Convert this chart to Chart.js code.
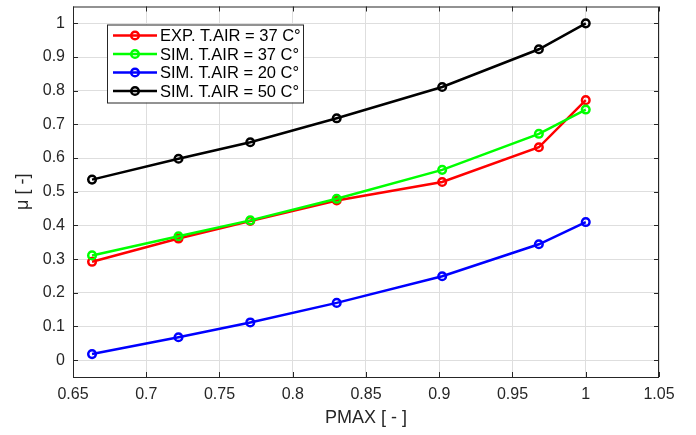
<!DOCTYPE html>
<html lang="en">

<head>
    <meta charset="UTF-8">
    <title>PMAX vs mu</title>
    <style>
        html, body { margin: 0; padding: 0; background: #fff; }
    </style>
</head>

<body>
    <div style="width:696px;height:435px">
        <canvas id="myChart" width="696" height="435"></canvas>
    </div>

    <script src="https://cdn.jsdelivr.net/npm/chart.js/dist/chart.umd.min.js"></script>
    <script>
        // values
        const pmax = [0.663, 0.722, 0.771, 0.830, 0.902, 0.968, 1.0];
        const expT37 = [0.292, 0.361, 0.413, 0.474, 0.529, 0.632, 0.772];
        const simT37 = [0.311, 0.368, 0.415, 0.479, 0.565, 0.672, 0.744];
        const simT20 = [0.018, 0.068, 0.112, 0.170, 0.249, 0.344, 0.410];
        const simT50 = [0.536, 0.598, 0.647, 0.718, 0.811, 0.923, 1.0];

        const seriesLabels = ['EXP. T.AIR = 37 C°', 'SIM. T.AIR = 37 C°', 'SIM. T.AIR = 20 C°', 'SIM. T.AIR = 50 C°'];
        const seriesColors = ['#ff0000', '#00ff00', '#0000ff', '#000000'];
        const yTicks = [0, 0.1, 0.2, 0.3, 0.4, 0.5, 0.6, 0.7, 0.8, 0.9, 1];
        const yTickLabels = ['0', '0.1', '0.2', '0.3', '0.4', '0.5', '0.6', '0.7', '0.8', '0.9', '1'];
        const xTicks = [0.65, 0.7, 0.75, 0.8, 0.85, 0.9, 0.95, 1, 1.05];
        const xTickLabels = ['0.65', '0.7', '0.75', '0.8', '0.85', '0.9', '0.95', '1', '1.05'];

        const FONT = '"Liberation Sans", Arial, sans-serif';
        const AXIS = '#262626';

        const toPoints = (ys) => ys.map((y, i) => ({ x: pmax[i], y: y }));

        const series = [expT37, simT37, simT20, simT50];
        const datasets = series.map((ys, i) => ({
            label: seriesLabels[i],
            data: toPoints(ys),
            borderColor: seriesColors[i],
            backgroundColor: 'transparent',
            borderWidth: 2.5,
            pointRadius: 3.8,
            pointBorderWidth: 2.5,
            pointBorderColor: seriesColors[i],
            pointBackgroundColor: 'transparent',
            tension: 0,
            order: 4 - i   // later series on top, like the original
        }));

        // box, inward ticks and the boxed legend
        const matlabLook = {
            id: 'matlabLook',
            afterDraw(chart) {
                const ctx = chart.ctx;
                const a = chart.chartArea;
                const xs = chart.scales.x, ys = chart.scales.y;
                ctx.save();
                ctx.strokeStyle = AXIS;
                ctx.lineWidth = 1;
                ctx.strokeRect(a.left + 0.5, a.top + 0.5, a.right - a.left - 1, a.bottom - a.top);
                ctx.beginPath();
                xTicks.forEach(v => {
                    const px = Math.round(xs.getPixelForValue(v)) + 0.5;
                    ctx.moveTo(px, a.bottom); ctx.lineTo(px, a.bottom - 5);
                    ctx.moveTo(px, a.top); ctx.lineTo(px, a.top + 5);
                });
                yTicks.forEach(v => {
                    const py = Math.round(ys.getPixelForValue(v)) + 0.5;
                    ctx.moveTo(a.left, py); ctx.lineTo(a.left + 5, py);
                    ctx.moveTo(a.right, py); ctx.lineTo(a.right - 5, py);
                });
                ctx.stroke();

                // legend
                const lx = a.left + 34, ly = a.top + 18, lw = 196, lh = 78;
                ctx.fillStyle = '#fff';
                ctx.fillRect(lx, ly, lw, lh);
                ctx.strokeStyle = AXIS;
                ctx.strokeRect(lx + 0.5, ly + 0.5, lw, lh);
                ctx.font = '16.5px ' + FONT;
                ctx.textBaseline = 'middle';
                ctx.textAlign = 'left';
                seriesLabels.forEach((label, i) => {
                    const cy = ly + 11 + i * 18.5;
                    ctx.strokeStyle = seriesColors[i];
                    ctx.lineWidth = 2.5;
                    ctx.beginPath();
                    ctx.moveTo(lx + 6, cy); ctx.lineTo(lx + 50, cy);
                    ctx.stroke();
                    ctx.beginPath();
                    ctx.arc(lx + 28, cy, 3.8, 0, Math.PI * 2);
                    ctx.stroke();
                    ctx.fillStyle = '#000';
                    ctx.fillText(label, lx + 53, cy + 1);
                });
                ctx.restore();
            }
        };

        const config = {
            type: 'line',
            data: { datasets: datasets },
            options: {
                responsive: false,
                animation: false,
                layout: { padding: { top: 6, right: 37, left: 0, bottom: 0 } },
                plugins: {
                    legend: { display: false },
                    tooltip: { enabled: false }
                },
                scales: {
                    x: {
                        type: 'linear',
                        min: 0.65,
                        max: 1.05,
                        afterBuildTicks: (s) => { s.ticks = xTicks.map(v => ({ value: v })); },
                        afterFit: (s) => { s.height = 58; s.paddingLeft = 0; s.paddingRight = 0; },
                        ticks: {
                            color: AXIS,
                            font: { family: FONT, size: 16 },
                            padding: 8,
                            maxRotation: 0,
                            callback: (v, i) => xTickLabels[i]
                        },
                        grid: { color: '#dedede', drawTicks: false },
                        border: { display: false },
                        title: {
                            display: true,
                            text: 'PMAX [ - ]',
                            color: AXIS,
                            font: { family: FONT, size: 18 },
                            padding: { top: 0, bottom: 6 }
                        }
                    },
                    y: {
                        type: 'linear',
                        min: -0.05,
                        max: 1.05,
                        afterBuildTicks: (s) => { s.ticks = yTicks.map(v => ({ value: v })); },
                        afterFit: (s) => { s.width = 73; s.paddingTop = 0; s.paddingBottom = 0; },
                        ticks: {
                            color: AXIS,
                            font: { family: FONT, size: 16 },
                            padding: 8,
                            callback: (v, i) => yTickLabels[i]
                        },
                        grid: { color: '#dedede', drawTicks: false },
                        border: { display: false },
                        title: {
                            display: true,
                            text: 'μ [ -]',
                            color: AXIS,
                            font: { family: FONT, size: 18 },
                            padding: { top: 12, bottom: 0 }
                        }
                    }
                }
            },
            plugins: [matlabLook]
        };

        const myChart = new Chart(document.getElementById('myChart'), config);
    </script>
</body>

</html>
